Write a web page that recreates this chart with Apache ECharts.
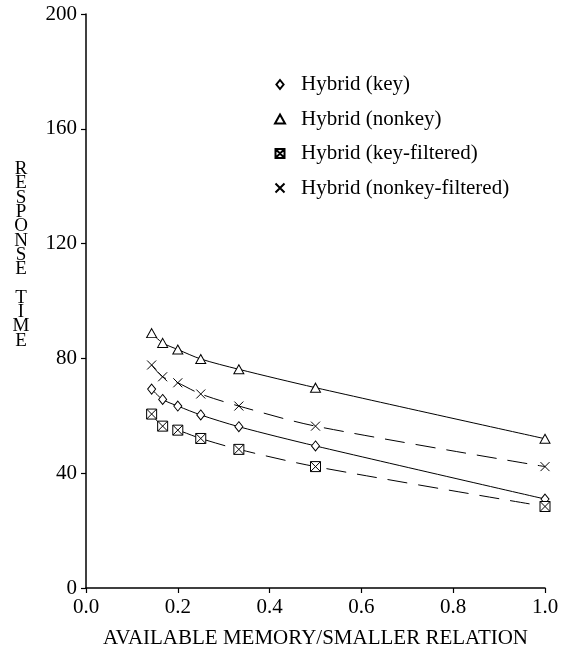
<!DOCTYPE html>
<html>
<head>
<meta charset="utf-8">
<script src="https://cdn.jsdelivr.net/npm/echarts@6/dist/echarts.min.js"></script>
<style>
  html, body { margin: 0; padding: 0; background: #fff; }
  #chart { width: 581px; height: 661px; }
</style>
</head>
<body>
<div id="chart"></div>
<script>
// x = available memory / smaller relation
const memRatio = [0.143, 0.167, 0.2, 0.25, 0.333, 0.5, 1.0]
const hybridKey = [69.3, 65.7, 63.4, 60.3, 56.2, 49.5, 31.0]
const hybridNonkey = [88.8, 85.4, 83.1, 79.8, 76.2, 69.8, 52.0]
const hybridKeyFiltered = [60.6, 56.4, 55.0, 52.1, 48.3, 42.3, 28.4]
const hybridNonkeyFiltered = [77.7, 73.6, 71.5, 67.6, 63.4, 56.4, 42.3]
const seriesNames = ['Hybrid (key)', 'Hybrid (nonkey)', 'Hybrid (key-filtered)', 'Hybrid (nonkey-filtered)']

const FONT = 'Liberation Serif'
const diamond = 'path://M4,0L8,5L4,10L0,5Z'
const triangle = 'path://M5,0L10,9L0,9Z'
const boxX = 'path://M0,0H10V10H0ZM0,0L10,10M10,0L0,10'
const cross = 'path://M0,0L10,10M10,0L0,10'

function pairs(ys) {
  return memRatio.map((x, i) => [x, ys[i]])
}

function mkSeries(name, ys, symbol, size, fill, dashed) {
  return {
    name: name,
    type: 'line',
    smooth: 0.3,
    data: pairs(ys),
    symbol: symbol,
    symbolSize: size,
    itemStyle: { color: fill, borderColor: '#000', borderWidth: 1 },
    lineStyle: { color: '#000', width: 1, type: dashed ? [20, 11] : 'solid' },
    emphasis: { disabled: true },
    z: 3
  }
}

const myChart = echarts.init(document.getElementById('chart'), null, { renderer: 'canvas' })
const option = {
  animation: false,
  backgroundColor: '#fff',
  grid: { left: 86, right: 36, top: 14, bottom: 73 },
  legend: {
    orient: 'vertical',
    left: 269,
    top: 69,
    itemWidth: 32,
    itemHeight: 9,
    itemGap: 13.5,
    symbolKeepAspect: true,
    textStyle: { fontFamily: FONT, fontSize: 21, color: '#000', lineHeight: 21 },
    data: [
      { name: seriesNames[0], icon: diamond },
      { name: seriesNames[1], icon: triangle },
      { name: seriesNames[2], icon: boxX },
      { name: seriesNames[3], icon: cross }
    ]
  },
  graphic: [{
    type: 'text',
    x: 21,
    y: 162,
    style: {
      text: 'R\nE\nS\nP\nO\nN\nS\nE\n \nT\nI\nM\nE',
      align: 'center',
      verticalAlign: 'top',
      fontFamily: FONT,
      fontSize: 19,
      lineHeight: 14.3,
      fill: '#000'
    }
  }],
  xAxis: {
    type: 'value',
    min: 0,
    max: 1,
    interval: 0.2,
    name: 'AVAILABLE MEMORY/SMALLER RELATION',
    nameLocation: 'middle',
    nameGap: 40,
    nameTextStyle: { fontFamily: FONT, fontSize: 21, color: '#000' },
    axisLine: { lineStyle: { color: '#000', width: 1.5 } },
    axisTick: { length: 5, lineStyle: { color: '#000', width: 1.2 } },
    axisLabel: {
      margin: 9,
      fontFamily: FONT,
      fontSize: 21,
      color: '#000',
      formatter: v => v.toFixed(1)
    },
    splitLine: { show: false }
  },
  yAxis: {
    type: 'value',
    min: 0,
    max: 200,
    interval: 40,
    axisLine: { show: true, lineStyle: { color: '#000', width: 1.5 } },
    axisTick: { show: true, length: 5, lineStyle: { color: '#000', width: 1.2 } },
    axisLabel: { margin: 9, fontFamily: FONT, fontSize: 21, color: '#000' },
    splitLine: { show: false }
  },
  series: [
    mkSeries(seriesNames[0], hybridKey, diamond, [8, 10], '#fff', false),
    mkSeries(seriesNames[1], hybridNonkey, triangle, [10, 9], '#fff', false),
    mkSeries(seriesNames[2], hybridKeyFiltered, boxX, 10, '#fff', true),
    mkSeries(seriesNames[3], hybridNonkeyFiltered, cross, 9, 'rgba(0,0,0,0)', true)
  ]
}
myChart.setOption(option)
</script>
</body>
</html>
